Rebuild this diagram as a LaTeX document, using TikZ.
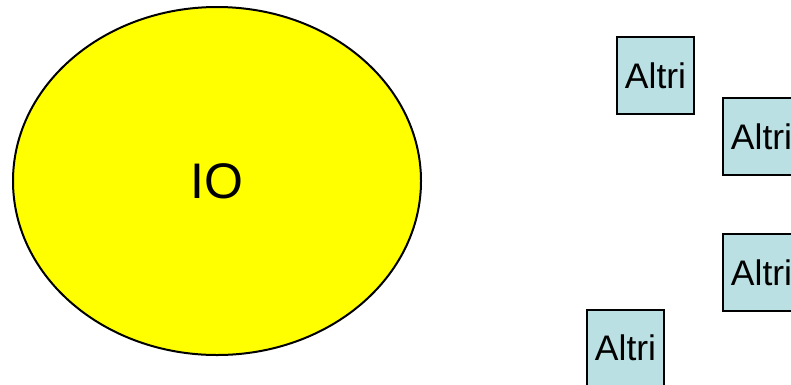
\documentclass[tikz,border=0pt]{standalone}
\usepackage{fontspec}
\setmainfont{Liberation Sans}
\usetikzlibrary{shapes.geometric}
\definecolor{boxblue}{HTML}{BBE0E3}
\definecolor{ioyellow}{RGB}{255,255,0}
\begin{document}
\begin{tikzpicture}[x=1pt,y=-1pt,
  altri/.style={draw=black, line width=2pt, fill=boxblue, minimum width=77pt, minimum height=77pt, inner sep=0pt, font=\fontsize{35.5}{40}\selectfont},
  io/.style={ellipse, draw=black, line width=2pt, fill=ioyellow, minimum width=408pt, minimum height=348pt, inner sep=0pt, font=\fontsize{50}{60}\selectfont}]
\useasboundingbox (0,0) rectangle (791,384);
\clip (0,0) rectangle (791,384);
\node[io] (io) at (217,181) {IO};
\node[altri] (a1) at (655.5,75.5) {Altri};
\node[altri] (a2) at (761.5,136.5) {Altri};
\node[altri] (a3) at (761.5,272.5) {Altri};
\node[altri] (a4) at (625.5,348) {Altri};
\end{tikzpicture}
\end{document}
